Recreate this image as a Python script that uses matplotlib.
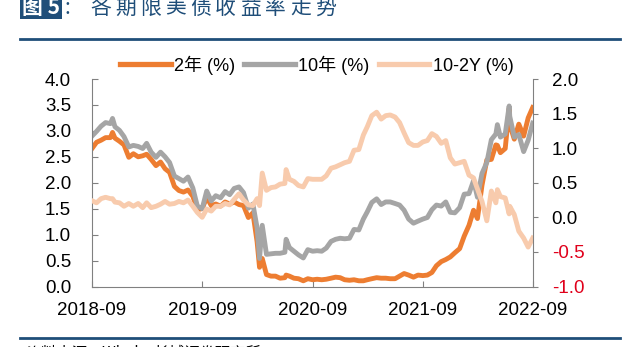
import matplotlib
matplotlib.use("Agg")
import matplotlib.pyplot as plt
import matplotlib.dates as mdates
from matplotlib.lines import Line2D
from matplotlib.patches import Rectangle
import pandas as pd

plt.rcParams['font.family'] = ['Liberation Sans', 'Noto Sans CJK SC']

dates = [
    "2018-09-01", "2018-09-16", "2018-10-01", "2018-10-16", "2018-11-01", "2018-11-08", "2018-11-16",
    "2018-12-01", "2018-12-16", "2019-01-01", "2019-01-16", "2019-02-01", "2019-02-16", "2019-03-01",
    "2019-03-16", "2019-04-01", "2019-04-16", "2019-05-01", "2019-05-16", "2019-06-01", "2019-06-16",
    "2019-07-01", "2019-07-16", "2019-08-01", "2019-08-16", "2019-09-01", "2019-09-16", "2019-10-01",
    "2019-10-16", "2019-11-01", "2019-11-16", "2019-12-01", "2019-12-16", "2020-01-01", "2020-01-16",
    "2020-02-01", "2020-02-16", "2020-03-01", "2020-03-09", "2020-03-18", "2020-04-01", "2020-04-16",
    "2020-05-01", "2020-05-16", "2020-06-01", "2020-06-05", "2020-06-16", "2020-07-01", "2020-07-16",
    "2020-08-01", "2020-08-16", "2020-09-01", "2020-09-16", "2020-10-01", "2020-10-16", "2020-11-01",
    "2020-11-16", "2020-12-01", "2020-12-16", "2021-01-01", "2021-01-16", "2021-02-01", "2021-02-16",
    "2021-03-01", "2021-03-16", "2021-04-01", "2021-04-16", "2021-05-01", "2021-05-16", "2021-06-01",
    "2021-06-16", "2021-07-01", "2021-07-16", "2021-08-01", "2021-08-16", "2021-09-01", "2021-09-16",
    "2021-10-01", "2021-10-16", "2021-11-01", "2021-11-16", "2021-12-01", "2021-12-16", "2022-01-01",
    "2022-01-16", "2022-02-01", "2022-02-16", "2022-03-01", "2022-03-16", "2022-04-01", "2022-04-16",
    "2022-05-01", "2022-05-06", "2022-05-16", "2022-06-01", "2022-06-14", "2022-06-16", "2022-07-01",
    "2022-07-16", "2022-08-01", "2022-08-16", "2022-08-31",
]
y2 = [
    2.66, 2.78, 2.82, 2.87, 2.87, 2.97, 2.86,
    2.80, 2.73, 2.49, 2.56, 2.50, 2.52, 2.55,
    2.45, 2.33, 2.40, 2.27, 2.20, 1.93, 1.85,
    1.82, 1.86, 1.74, 1.48, 1.50, 1.72, 1.56,
    1.59, 1.55, 1.63, 1.59, 1.63, 1.58, 1.56,
    1.33, 1.42, 0.86, 0.37, 0.54, 0.23, 0.20,
    0.20, 0.16, 0.17, 0.22, 0.20, 0.16, 0.15,
    0.11, 0.15, 0.13, 0.14, 0.13, 0.14, 0.16,
    0.18, 0.17, 0.13, 0.12, 0.13, 0.11, 0.11,
    0.13, 0.15, 0.17, 0.16, 0.16, 0.15, 0.15,
    0.20, 0.25, 0.22, 0.18, 0.22, 0.21, 0.22,
    0.27, 0.40, 0.48, 0.52, 0.57, 0.65, 0.73,
    0.97, 1.18, 1.47, 1.31, 1.95, 2.44, 2.45,
    2.73, 2.72, 2.58, 2.66, 3.43, 3.12, 2.84,
    3.13, 2.90, 3.25, 3.45,
]
y10 = [
    2.90, 2.99, 3.09, 3.16, 3.14, 3.24, 3.08,
    3.01, 2.89, 2.69, 2.72, 2.70, 2.66, 2.76,
    2.59, 2.49, 2.59, 2.50, 2.39, 2.13, 2.08,
    2.03, 2.11, 1.90, 1.55, 1.50, 1.84, 1.65,
    1.75, 1.71, 1.83, 1.77, 1.89, 1.92, 1.81,
    1.51, 1.59, 1.13, 0.54, 1.18, 0.62, 0.63,
    0.64, 0.64, 0.66, 0.91, 0.75, 0.68, 0.61,
    0.55, 0.71, 0.68, 0.69, 0.68, 0.74, 0.87,
    0.91, 0.93, 0.92, 0.93, 1.10, 1.09, 1.30,
    1.44, 1.62, 1.69, 1.58, 1.63, 1.63, 1.60,
    1.57, 1.47, 1.30, 1.22, 1.26, 1.30, 1.33,
    1.48, 1.57, 1.55, 1.63, 1.43, 1.42, 1.52,
    1.78, 1.79, 2.04, 1.72, 2.18, 2.39, 2.83,
    2.94, 3.12, 2.88, 2.94, 3.48, 3.28, 2.88,
    2.93, 2.60, 2.82, 3.15,
]

df = pd.DataFrame({"y2": y2, "y10": y10}, index=pd.to_datetime(dates))
df["spread"] = df["y10"] - df["y2"]

W, H = 640, 347
fig = plt.figure(figsize=(W / 100, H / 100), dpi=100)
ax = fig.add_axes([92 / W, 1 - 286.5 / H, 441 / W, 207.5 / H])
ax2 = ax.twinx()

c2, c10, cs = "#ED7D31", "#A5A5A5", "#F8CBAD"
ax.plot(df.index, df["y2"], color=c2, lw=3.5, solid_joinstyle="round")
ax.plot(df.index, df["y10"], color=c10, lw=3.5, solid_joinstyle="round")
ax2.plot(df.index, df["spread"], color=cs, lw=3.5, solid_joinstyle="round")

ax.set_xlim(pd.Timestamp("2018-09-01"), pd.Timestamp("2022-09-01"))
ax.set_ylim(0, 4)
ax2.set_ylim(-1, 2)
ax.set_yticks([i * 0.5 for i in range(9)])
ax2.set_yticks([-1, -0.5, 0, 0.5, 1, 1.5, 2])
ax.yaxis.set_major_formatter(matplotlib.ticker.FormatStrFormatter("%.1f"))
ax2.yaxis.set_major_formatter(matplotlib.ticker.FormatStrFormatter("%.1f"))
ax.xaxis.set_major_locator(mdates.MonthLocator(bymonth=9))
ax.xaxis.set_major_formatter(mdates.DateFormatter("%Y-%m"))

spine_c = "#808080"
for a in (ax, ax2):
    a.spines["top"].set_visible(False)
    for s in ("left", "right", "bottom"):
        a.spines[s].set_color(spine_c)
ax.spines["right"].set_visible(False)
ax2.spines["left"].set_visible(False)
ax2.spines["bottom"].set_visible(False)

ax.tick_params(axis="y", direction="in", length=4, color=spine_c, labelsize=13.5, pad=15)
ax.tick_params(axis="x", direction="in", length=4, color=spine_c, labelsize=13.5, pad=11)
ax2.tick_params(axis="y", direction="out", length=3.5, color=spine_c, labelsize=13.5, pad=10)
for t, v in zip(ax2.get_yticklabels(), ax2.get_yticks()):
    if v < 0:
        t.set_color("#E0001B")

handles = [
    Line2D([], [], color=c2, lw=3.8),
    Line2D([], [], color=c10, lw=3.8),
    Line2D([], [], color=cs, lw=3.8),
]
fig.legend(handles, ["2年 (%)", "10年 (%)", "10-2Y (%)"], loc="center",
           bbox_to_anchor=(0.495, 0.813), ncol=3, frameon=False, fontsize=13,
           handlelength=2.8, handletextpad=0.2, columnspacing=0.5)

# header: numbered badge, then the title spaced out character by character
blue = "#1F4E79"
ty = 1 - 7.5 / H
fig.add_artist(Rectangle((20 / W, 1 - 19 / H), 42 / W, 19 / H, transform=fig.transFigure,
                         facecolor=blue, edgecolor="none"))
fig.text(41 / W, ty, "图 5", color="white", fontsize=15, va="center", ha="center",
         family=["Noto Sans CJK SC"], fontweight="bold")
fig.text(64 / W, ty, ":", color=blue, fontsize=15, va="center", family=["Noto Sans CJK SC"])
for i, ch in enumerate("各期限美债收益率走势"):
    fig.text((90 + 25 * i) / W, ty, ch, color=blue, fontsize=15, va="center",
             family=["Noto Sans CJK SC"], fontweight="medium")
fig.add_artist(Line2D([20 / W, 620 / W], [1 - 38.5 / H] * 2, color=blue, lw=2))
fig.add_artist(Line2D([20 / W, 620 / W], [1 - 337.5 / H] * 2, color=blue, lw=2))
fig.text(26 / W, 1 - 353 / H, "资料来源：Wind，长城证券研究所", color="black", fontsize=11,
         va="center", family=["Noto Sans CJK SC"])

fig.savefig("out.png", dpi=100)
